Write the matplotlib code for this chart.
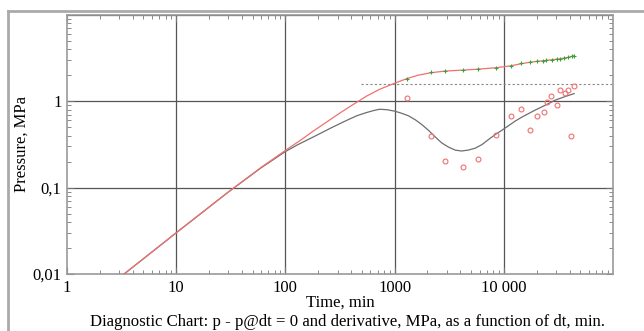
import matplotlib.pyplot as plt
from matplotlib.lines import Line2D
from matplotlib.ticker import FixedLocator, FixedFormatter, LogLocator, NullFormatter

plt.rcParams['font.family'] = ['Liberation Serif', 'DejaVu Serif']

# model pressure curve (red)
p_t = [3.3, 10, 30, 60, 100, 140, 179, 260, 330, 447, 560, 731, 1000, 1290, 1650,
       2140, 2870, 4250, 5830, 8470, 11600, 14300, 17200, 19950, 22900, 27400,
       32900, 38900, 44100]
p_v = [0.0099, 0.030, 0.089, 0.172, 0.27, 0.36, 0.45, 0.62, 0.76, 0.97, 1.16, 1.38,
       1.62, 1.83, 2.01, 2.14, 2.24, 2.30, 2.36, 2.45, 2.58, 2.72, 2.83, 2.90,
       2.95, 3.03, 3.11, 3.23, 3.38]

# model derivative curve (gray)
d_t = [3.3, 10, 30, 60, 100, 130, 179, 260, 362, 450, 550, 650, 731, 850, 1000, 1150,
       1340, 1550, 1770, 2050, 2340, 2700, 3100, 3600, 4110, 4700, 5450, 6300, 7220,
       8300, 9550, 11000, 12700, 14600, 16800, 19300, 22200, 25600, 29400, 36000, 44100]
d_v = [0.0099, 0.030, 0.089, 0.17, 0.262, 0.315, 0.385, 0.49, 0.60, 0.68, 0.74, 0.785,
       0.81, 0.80, 0.77, 0.73, 0.68, 0.61, 0.54, 0.46, 0.39, 0.33, 0.296, 0.272, 0.266,
       0.272, 0.286, 0.315, 0.36, 0.41, 0.46, 0.52, 0.59, 0.655, 0.72, 0.79, 0.86,
       0.94, 1.03, 1.13, 1.23]

# measured pressure (green +)
mp_t = [1290, 2140, 2870, 4250, 5830, 8470, 11600, 14300, 17200, 19950, 22900,
        24600, 27400, 30400, 32900, 35800, 38900, 42300, 44100]
mp_v = [1.83, 2.16, 2.24, 2.30, 2.36, 2.45, 2.58, 2.75, 2.85, 2.90, 2.92,
        2.98, 3.03, 3.09, 3.11, 3.17, 3.23, 3.31, 3.38]

# measured derivative (red circles)
md_t = [1300, 2150, 2870, 4260, 5840, 8410, 11700, 14300, 17200, 19950, 23300,
        24700, 27200, 30400, 32400, 36000, 38900, 41400, 43800]
md_v = [1.10, 0.394, 0.206, 0.174, 0.215, 0.412, 0.671, 0.81, 0.470, 0.671, 0.76,
        0.99, 1.15, 0.906, 1.36, 1.26, 1.34, 0.394, 1.52]

# dotted reference level
ref_t = [490, 100000]
ref_v = [1.6, 1.6]

x_ticks = [1, 10, 100, 1000, 10000]
x_labels = ['1', '10', '100', '1000', '10 000']
y_ticks = [0.01, 0.1, 1]
y_labels = ['0,01', '0,1', '1']

fig = plt.figure(figsize=(6.44, 3.31), dpi=100)
fig.add_artist(Line2D([8 / 644, 8 / 644], [0, 1 - 11 / 331], color='#aaaaaa', lw=2))
fig.add_artist(Line2D([8 / 644, 1], [1 - 11 / 331, 1 - 11 / 331], color='#aaaaaa', lw=2))

ax = fig.add_axes([67 / 644, 57 / 331, 546 / 644, 259 / 331])
ax.set_xscale('log')
ax.set_yscale('log')
ax.set_xlim(1, 100000)
ax.set_ylim(0.01, 10)

for v in x_ticks[1:]:
    ax.axvline(v, color='#555555', lw=0.9, zorder=1)
for v in y_ticks[1:] + [10]:
    ax.axhline(v, color='#555555', lw=0.9, zorder=1)

ax.plot(ref_t, ref_v, color='#888888', lw=0.8, ls=(0, (2, 2)), zorder=2)
ax.plot(d_t, d_v, color='#6e6e6e', lw=0.9, zorder=3)
ax.plot(p_t, p_v, color='#f07070', lw=0.9, zorder=4)
ax.plot(mp_t, mp_v, ls='none', marker='+', ms=3, mew=0.8, color='#3aa03a', zorder=5)
ax.plot(md_t, md_v, ls='none', marker='o', ms=3.5, mfc='none', mew=0.8, color='#f07070', zorder=5)

ax.xaxis.set_major_locator(FixedLocator(x_ticks))
ax.xaxis.set_major_formatter(FixedFormatter(x_labels))
ax.yaxis.set_major_locator(FixedLocator(y_ticks))
ax.yaxis.set_major_formatter(FixedFormatter(y_labels))
ax.xaxis.set_minor_locator(LogLocator(base=10, subs=range(2, 10)))
ax.yaxis.set_minor_locator(LogLocator(base=10, subs=range(2, 10)))
ax.xaxis.set_minor_formatter(NullFormatter())
ax.yaxis.set_minor_formatter(NullFormatter())
ax.tick_params(which='both', direction='in', top=True, right=True, color='#777777',
               labelsize=12, pad=4)
ax.tick_params(which='major', length=5)
ax.tick_params(which='minor', length=3)
for s in ax.spines.values():
    s.set_color('#999999')
    s.set_linewidth(1.2)

ax.set_xlabel('Time, min', fontsize=12, labelpad=-1)
ax.set_ylabel('Pressure, MPa', fontsize=12, labelpad=2)
fig.text(348 / 644, 1 - 322 / 331,
         'Diagnostic Chart: p - p@dt = 0 and derivative, MPa, as a function of dt, min.',
         ha='center', va='center', fontsize=12.1)

fig.savefig('out.png', dpi=100)
